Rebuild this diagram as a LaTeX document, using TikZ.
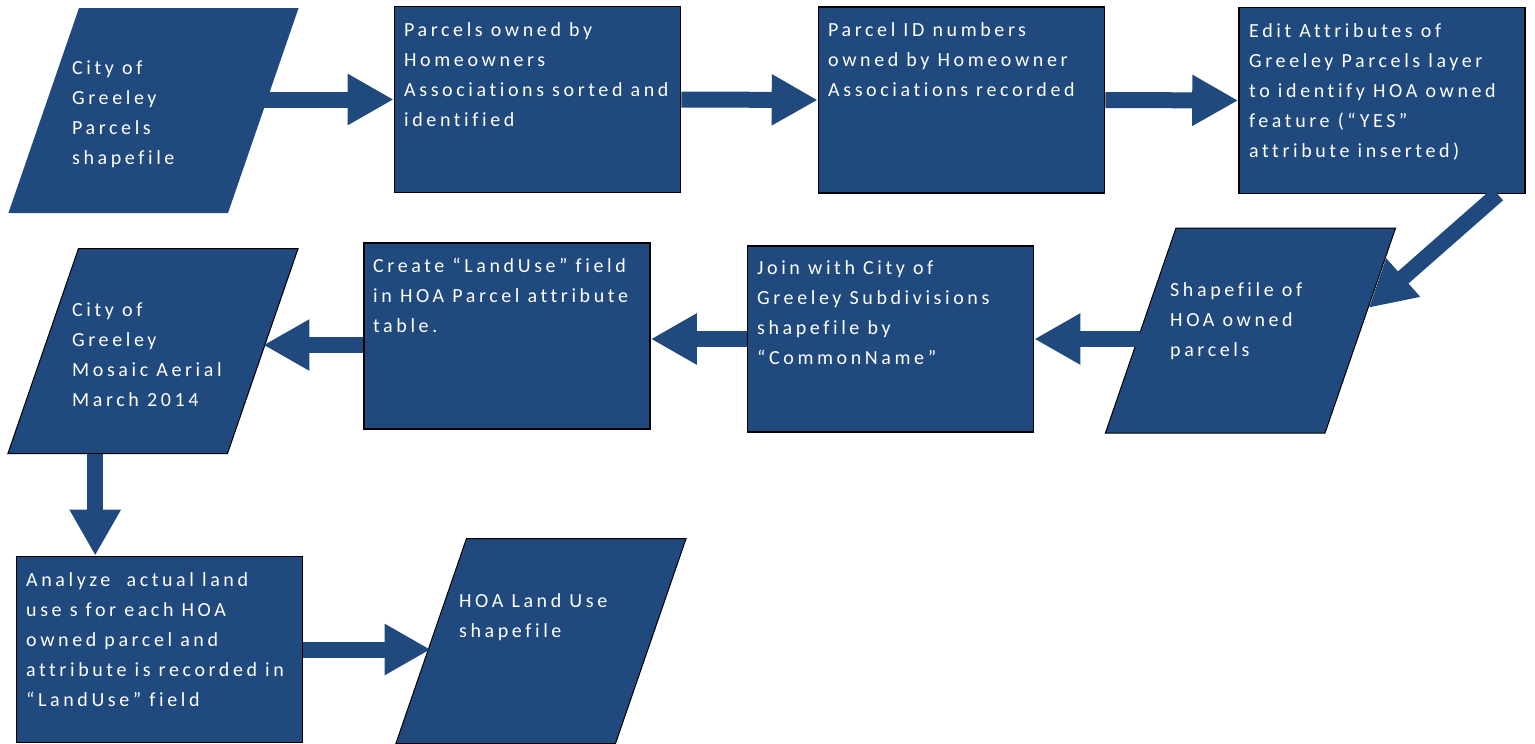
\documentclass[tikz,border=0pt]{standalone}
\usepackage{fontspec}
\setmainfont{Carlito}[LetterSpace=18,Ligatures={NoCommon}]
\usetikzlibrary{arrows.meta,shapes.geometric,calc}
\definecolor{hoablue}{RGB}{32,73,125}

\begin{document}
\begin{tikzpicture}[x=1pt,y=-1pt,
box/.style={draw=black,line width=1.6pt,fill=hoablue,minimum width=286pt,minimum height=186pt,inner sep=0pt},
data/.style={trapezium,trapezium left angle=71,trapezium right angle=109,
  fill=hoablue,inner sep=0pt},
edged/.style={draw=black,line width=1pt},
txt/.style={text=white,align=left,anchor=north west,inner sep=0pt,font=\fontsize{20}{30}\selectfont},
flow/.style={draw=hoablue,line width=16pt,-{Triangle[length=46pt,width=48pt]}}]
\useasboundingbox (0,0) rectangle (1535,744);
\newcommand{\databody}{\rule{0pt}{205pt}\rule{149pt}{0pt}}
%================================================================
%	Shapes
\node[data] (p1) at (153.5,110.5) {\databody};
\node[box] (b1) at (537.5,99.5) {};
\node[box] (b2) at (961.5,100) {};
\node[box] (b3) at (1382,100.5) {};
%----------------------------------------------------------------
\node[data,edged] (p2) at (1250.5,330.5) {\databody};
\node[box] (b4) at (890.5,339) {};
\node[box] (b5) at (507,336) {};
\node[data,edged] (p3) at (153,351) {\databody};
%----------------------------------------------------------------
\node[box] (b6) at (159.5,649.5) {};
\node[data,edged] (p4) at (541,641) {\databody};

%================================================================
%	Texts
\node[txt] (p1t) at (72,53.5) {\strut City of\\Greeley\\Parcels\\shapefile};
\node[txt] (b1t) at (404,15.5) {\strut Parcels owned by\\Homeowners\\Associations sorted and\\identified};
\node[txt] (b2t) at (828,15.5) {\strut Parcel ID numbers\\owned by Homeowner\\Associations recorded};
\node[txt] (b3t) at (1249,16.5) {\strut Edit Attributes of\\Greeley Parcels layer\\to identify HOA owned\\feature (“YES”\\attribute inserted)};
%----------------------------------------------------------------
\node[txt] (p2t) at (1170,275.5) {\strut Shapefile of\\HOA owned\\parcels};
\node[txt] (b4t) at (757,253.5) {\strut Join with City of\\Greeley Subdivisions\\shapefile by\\“CommonName”};
\node[txt] (b5t) at (373,251.5) {\strut Create “LandUse” field\\in HOA Parcel attribute\\table.};
\node[txt] (p3t) at (72,295.5) {\strut City of\\Greeley\\Mosaic Aerial\\March 2014};
%----------------------------------------------------------------
\node[txt] (b6t) at (26,565.5) {\strut Analyze\ \ actual land\\use s for each HOA\\owned parcel and\\attribute is recorded in\\“LandUse” field};
\node[txt] (p4t) at (459,586.5) {\strut HOA Land Use\\shapefile};

%================================================================
%	Arrows
\draw[flow] (b1.west -| p1.east) -- (b1.west);
\draw[flow] (b1.east) -- (b2.west);
\draw[flow] (b2.east) -- (b3.west);
\draw[flow] ([xshift=-28pt]b3.south east) -- ($(p2.top right corner)!0.39!(p2.bottom right corner)$);
%----------------------------------------------------------------
\draw[flow] (p2.west |- b4.east) -- (b4.east);
\draw[flow] (b4.west) -- (b4.west -| b5.east);
\draw[flow] ([yshift=-9pt]b5.west) -- ([yshift=-9pt]b5.west -| p3.east);
\draw[flow] ([xshift=88pt]p3.bottom left corner) -- ([xshift=88pt]p3.bottom left corner |- b6.north);
\draw[flow] (b6.east) -- (b6.east -| p4.west);
%================================================================
\end{tikzpicture}
\end{document}
